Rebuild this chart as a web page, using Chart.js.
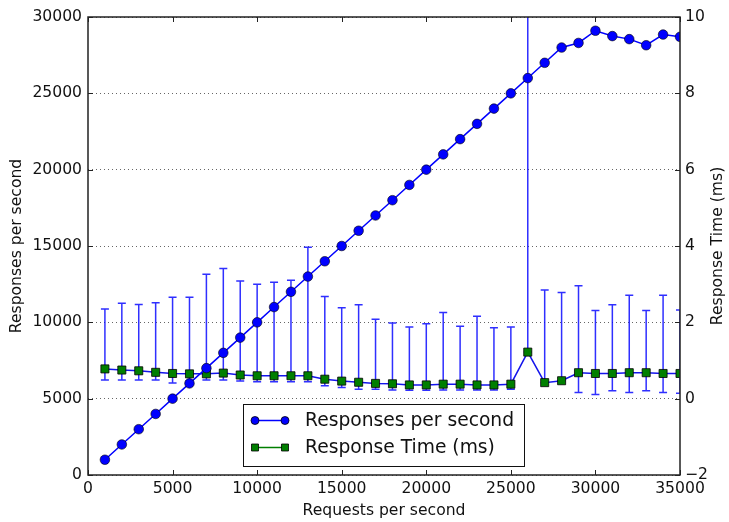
<!DOCTYPE html>
<html>
<head>
<meta charset="utf-8">
<script src="https://cdn.jsdelivr.net/npm/chart.js@4"></script>
<style>
  body { margin: 0; background: #fff; }
  #wrap { width: 729px; height: 522px; }
</style>
</head>
<body>
<div id="wrap"><canvas id="rpsChart" width="729" height="522"></canvas></div>
<script>
// requests per second (x)
const requests = [1000, 2000, 3000, 4000, 5000, 6000, 7000, 8000, 9000, 10000,
  11000, 12000, 13000, 14000, 15000, 16000, 17000, 18000, 19000, 20000,
  21000, 22000, 23000, 24000, 25000, 26000, 27000, 28000, 29000, 30000,
  31000, 32000, 33000, 34000, 35000];
// responses per second (left axis)
const responses = [1000, 2000, 3000, 4000, 5000, 6000, 7000, 8000, 9000, 10000,
  11000, 12000, 13000, 14000, 15000, 16000, 17000, 18000, 19000, 20000,
  21000, 22000, 23000, 24000, 25000, 26000, 27000, 28000, 28300, 29100,
  28750, 28550, 28150, 28850, 28700];
// mean response time in ms (right axis)
const respTime = [0.78, 0.75, 0.73, 0.69, 0.66, 0.65, 0.65, 0.67, 0.62, 0.60,
  0.60, 0.60, 0.60, 0.51, 0.46, 0.43, 0.40, 0.39, 0.36, 0.36,
  0.38, 0.38, 0.36, 0.36, 0.38, 1.22, 0.42, 0.47, 0.68, 0.66,
  0.66, 0.68, 0.68, 0.66, 0.66];
// error bar ends (ms)
const errHigh = [2.35, 2.50, 2.47, 2.51, 2.66, 2.66, 3.26, 3.41, 3.08, 3.00,
  3.05, 3.10, 3.97, 2.68, 2.38, 2.46, 2.08, 1.98, 1.88, 1.96,
  2.26, 1.90, 2.16, 1.86, 1.88, 12.0, 2.85, 2.78, 2.96, 2.31,
  2.46, 2.71, 2.31, 2.71, 2.32];
const errLow = [0.49, 0.49, 0.49, 0.49, 0.41, 0.47, 0.49, 0.49, 0.46, 0.44,
  0.44, 0.44, 0.44, 0.34, 0.29, 0.25, 0.25, 0.23, 0.22, 0.22,
  0.23, 0.23, 0.23, 0.23, 0.25, 1.22, 0.42, 0.47, 0.16, 0.11,
  0.21, 0.16, 0.21, 0.16, 0.14];

const xTicks = [0, 5000, 10000, 15000, 20000, 25000, 30000, 35000];
const leftTicks = [0, 5000, 10000, 15000, 20000, 25000, 30000];
const rightTicks = [-2, 0, 2, 4, 6, 8, 10];

const FONT = "'DejaVu Sans', sans-serif";
const BLUE = "#0000ff";
const GREEN = "#007f00";

// error bars, frame, tick marks, titles and legend
const extras = {
  id: "extras",
  beforeDatasetsDraw(chart) {
    const ctx = chart.ctx, a = chart.chartArea;
    const x = chart.scales.x, y2 = chart.scales.y2;
    ctx.save();
    ctx.beginPath();
    ctx.rect(a.left, a.top, a.right - a.left, a.bottom - a.top);
    ctx.clip();
    ctx.strokeStyle = "rgba(10,10,255,0.85)";
    ctx.lineWidth = 1.5;
    requests.forEach((r, i) => {
      const px = x.getPixelForValue(r);
      const top = y2.getPixelForValue(errHigh[i]);
      const bot = y2.getPixelForValue(errLow[i]);
      ctx.beginPath();
      ctx.moveTo(px, top); ctx.lineTo(px, bot);
      ctx.moveTo(px - 4, top); ctx.lineTo(px + 4, top);
      ctx.moveTo(px - 4, bot); ctx.lineTo(px + 4, bot);
      ctx.stroke();
    });
    ctx.restore();
  },
  afterDraw(chart) {
    const ctx = chart.ctx, a = chart.chartArea;
    const x = chart.scales.x, y = chart.scales.y, y2 = chart.scales.y2;
    ctx.save();
    ctx.strokeStyle = "#222";
    ctx.lineWidth = 1.5;
    ctx.strokeRect(a.left, a.top, a.right - a.left, a.bottom - a.top);
    ctx.lineWidth = 1;
    ctx.beginPath();
    xTicks.forEach(t => {
      const px = Math.round(x.getPixelForValue(t)) + 0.5;
      ctx.moveTo(px, a.bottom); ctx.lineTo(px, a.bottom - 5);
      ctx.moveTo(px, a.top); ctx.lineTo(px, a.top + 5);
    });
    leftTicks.forEach(t => {
      const py = Math.round(y.getPixelForValue(t)) + 0.5;
      ctx.moveTo(a.left, py); ctx.lineTo(a.left + 5, py);
    });
    rightTicks.forEach(t => {
      const py = Math.round(y2.getPixelForValue(t)) + 0.5;
      ctx.moveTo(a.right, py); ctx.lineTo(a.right - 5, py);
    });
    ctx.stroke();

    // axis titles
    ctx.fillStyle = "#111";
    ctx.font = "15.6px " + FONT;
    ctx.textAlign = "center";
    ctx.textBaseline = "middle";
    ctx.fillText("Requests per second", (a.left + a.right) / 2, 511);
    const midY = (a.top + a.bottom) / 2;
    ctx.save();
    ctx.translate(17, midY);
    ctx.rotate(-Math.PI / 2);
    ctx.fillText("Responses per second", 0, 0);
    ctx.restore();
    ctx.save();
    ctx.translate(718, midY);
    ctx.rotate(-Math.PI / 2);
    ctx.fillText("Response Time (ms)", 0, 0);
    ctx.restore();

    // legend
    const bx = 243.5, by = 404.5, bw = 281, bh = 62;
    ctx.fillStyle = "#fff";
    ctx.fillRect(bx, by, bw, bh);
    ctx.strokeStyle = "#111";
    ctx.strokeRect(bx, by, bw, bh);
    const rows = [
      { label: "Responses per second", color: BLUE, shape: "circle" },
      { label: "Response Time (ms)", color: GREEN, shape: "square" }
    ];
    rows.forEach((row, i) => {
      const ly = 420.5 + i * 27;
      ctx.strokeStyle = row.color;
      ctx.lineWidth = 1.5;
      ctx.beginPath();
      ctx.moveTo(255, ly); ctx.lineTo(285, ly);
      ctx.stroke();
      ctx.fillStyle = row.color;
      ctx.strokeStyle = "#000";
      ctx.lineWidth = 0.8;
      [255, 285].forEach(mx => {
        ctx.beginPath();
        if (row.shape === "circle") ctx.arc(mx, ly, 4, 0, Math.PI * 2);
        else ctx.rect(mx - 3.5, ly - 3.5, 7, 7);
        ctx.fill(); ctx.stroke();
      });
      ctx.fillStyle = "#111";
      ctx.font = "18.7px " + FONT;
      ctx.textAlign = "left";
      ctx.fillText(row.label, 305, ly + 1);
    });
    ctx.restore();
  }
};

const plain = v => (v < 0 ? "\u2212" + (-v) : String(v));

const ctx = document.getElementById("rpsChart").getContext("2d");
new Chart(ctx, {
  type: "line",
  data: {
    labels: requests,
    datasets: [{
      label: "Responses per second",
      data: requests.map((r, i) => ({ x: r, y: responses[i] })),
      yAxisID: "y",
      borderColor: BLUE,
      borderWidth: 1.5,
      pointStyle: "circle",
      pointRadius: 4.8,
      pointBackgroundColor: BLUE,
      pointBorderColor: "#000",
      pointBorderWidth: 0.6,
      tension: 0
    }, {
      label: "Response Time (ms)",
      data: requests.map((r, i) => ({ x: r, y: respTime[i] })),
      yAxisID: "y2",
      borderColor: "rgb(20,20,235)",
      borderWidth: 1.5,
      pointStyle: "rect",
      pointRadius: 5.7,
      pointBackgroundColor: GREEN,
      pointBorderColor: "#000",
      pointBorderWidth: 0.8,
      tension: 0
    }]
  },
  options: {
    responsive: false,
    animation: false,
    layout: { padding: { top: 17, left: 0, right: 0, bottom: 0 } },
    plugins: { legend: { display: false }, tooltip: { enabled: false } },
    scales: {
      x: {
        type: "linear",
        min: 0, max: 35000,
        afterBuildTicks: s => { s.ticks = xTicks.map(v => ({ value: v })); },
        afterFit: s => { s.height = 47; },
        grid: { display: false, drawTicks: false },
        border: { display: false },
        ticks: { padding: 5, color: "#111", font: { family: FONT, size: 15.6 }, maxRotation: 0, callback: plain }
      },
      y: {
        position: "left",
        min: 0, max: 30000,
        afterBuildTicks: s => { s.ticks = leftTicks.map(v => ({ value: v })); },
        afterFit: s => { s.width = 88; },
        grid: { color: "#666", drawTicks: false, lineWidth: 1 },
        border: { display: false, dash: [1, 3] },
        ticks: { padding: 6, color: "#111", font: { family: FONT, size: 15.6 }, callback: plain }
      },
      y2: {
        position: "right",
        min: -2, max: 10,
        afterBuildTicks: s => { s.ticks = rightTicks.map(v => ({ value: v })); },
        afterFit: s => { s.width = 49; },
        grid: { display: false, drawTicks: false },
        border: { display: false },
        ticks: { padding: 5, color: "#111", font: { family: FONT, size: 15.6 }, callback: plain }
      }
    }
  },
  plugins: [extras]
});
</script>
</body>
</html>
